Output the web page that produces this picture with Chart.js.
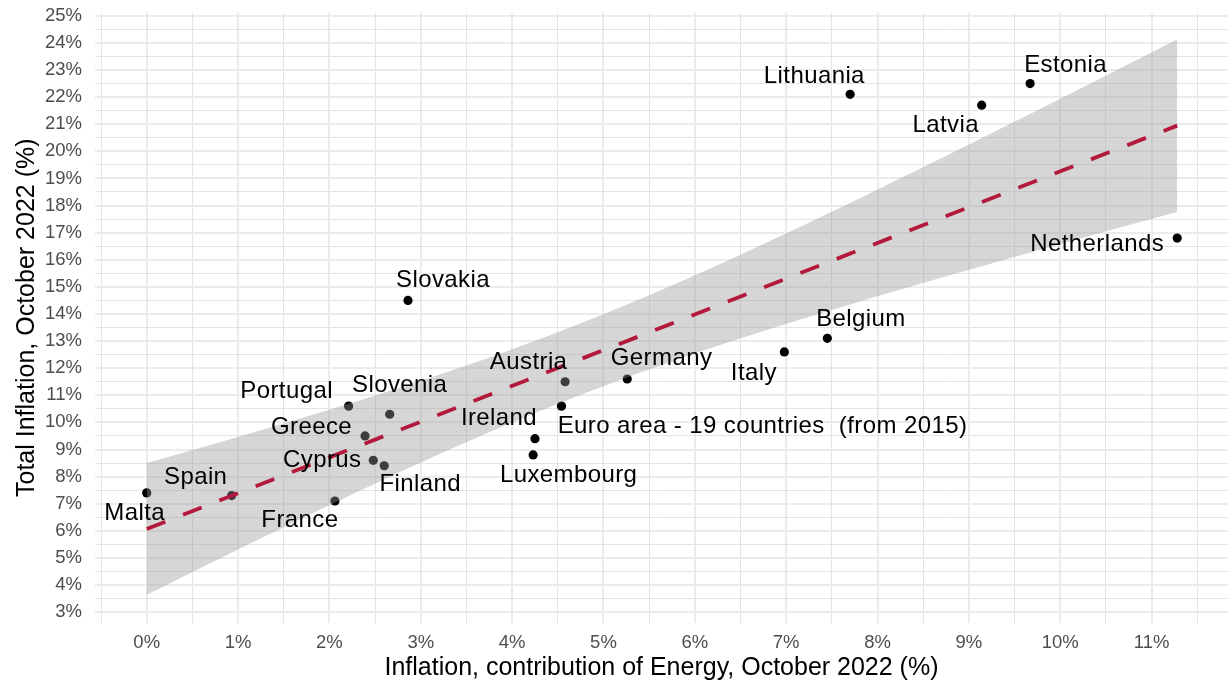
<!DOCTYPE html>
<html>
<head>
<meta charset="utf-8">
<script src="https://cdn.jsdelivr.net/npm/chart.js@4.4.1/dist/chart.umd.min.js"></script>
<style>
  html, body { margin: 0; padding: 0; background: #ffffff; }
  #wrap { width: 1228px; height: 684px; }
</style>
</head>
<body>
<div id="wrap"><canvas id="chart" width="1228" height="684"></canvas></div>
<script>
// Euro area, October 2022: energy's contribution to inflation vs. total HICP inflation (%)
const countries = [
  'Malta', 'Spain', 'France', 'Cyprus', 'Finland', 'Greece', 'Portugal', 'Slovenia',
  'Slovakia', 'Ireland', 'Luxembourg', 'Euro area - 19 countries  (from 2015)', 'Austria',
  'Germany', 'Italy', 'Belgium', 'Lithuania', 'Latvia', 'Estonia', 'Netherlands'
];
const energyContribution = [
  0.00, 0.93, 2.06, 2.48, 2.60, 2.39, 2.21, 2.66,
  2.86, 4.25, 4.23, 4.54, 4.58,
  5.26, 6.98, 7.45, 7.70, 9.14, 9.67, 11.28
];
const totalInflation = [
  7.4, 7.3, 7.1, 8.6, 8.4, 9.5, 10.6, 10.3,
  14.5, 9.4, 8.8, 10.6, 11.5,
  11.6, 12.6, 13.1, 22.1, 21.7, 22.5, 16.8
];

const xTickValues = [0, 1, 2, 3, 4, 5, 6, 7, 8, 9, 10, 11];
const xTickLabels = ['0%', '1%', '2%', '3%', '4%', '5%', '6%', '7%', '8%', '9%', '10%', '11%'];
const yTickValues = [3, 4, 5, 6, 7, 8, 9, 10, 11, 12, 13, 14, 15, 16, 17, 18, 19, 20, 21, 22, 23, 24, 25];
const yTickLabels = ['3%', '4%', '5%', '6%', '7%', '8%', '9%', '10%', '11%', '12%', '13%', '14%',
  '15%', '16%', '17%', '18%', '19%', '20%', '21%', '22%', '23%', '24%', '25%'];

// Label placement: pixel offset of each country label from its point
const labelNudge = [
  [-12, 20], [-36, -18], [-35, 19.5], [-51, 0.5], [36, 19], [-53.5, -9], [-62, -14.3], [10, -28.7],
  [35, -19.7], [-36, -20], [35.5, 20.2], [201, 20], [-36.5, -19],
  [34.3, -21], [-30.5, 21], [33.6, -18.6], [-35.8, -17.6], [-36, 19.7], [35.5, -18.3], [-80, 6.7]
];

// ---- Linear fit with 95% confidence band ----
const n = energyContribution.length;
const meanX = energyContribution.reduce((a, b) => a + b, 0) / n;
const meanY = totalInflation.reduce((a, b) => a + b, 0) / n;
let sxx = 0, sxy = 0;
for (let i = 0; i < n; i++) {
  sxx += (energyContribution[i] - meanX) ** 2;
  sxy += (energyContribution[i] - meanX) * (totalInflation[i] - meanY);
}
const slope = sxy / sxx;
const intercept = meanY - slope * meanX;
let sse = 0;
for (let i = 0; i < n; i++) {
  sse += (totalInflation[i] - (intercept + slope * energyContribution[i])) ** 2;
}
const sigma = Math.sqrt(sse / (n - 2));
const tCrit = 2.100922; // t(0.975, df = 18)
const xMin = Math.min(...energyContribution);
const xMax = Math.max(...energyContribution);
const bandLower = [], bandUpper = [];
const steps = 80;
for (let k = 0; k <= steps; k++) {
  const x = xMin + (xMax - xMin) * k / steps;
  const fit = intercept + slope * x;
  const se = sigma * Math.sqrt(1 / n + (x - meanX) ** 2 / sxx);
  bandLower.push({ x, y: fit - tCrit * se });
  bandUpper.push({ x, y: fit + tCrit * se });
}
const fitLine = [
  { x: xMin, y: intercept + slope * xMin },
  { x: xMax, y: intercept + slope * xMax }
];

const points = energyContribution.map((x, i) => ({ x, y: totalInflation[i] }));

// Grid every 0.5 %, labels on whole percents
const halfSteps = (lo, hi) => { const out = []; for (let v = lo; v <= hi + 1e-9; v += 0.5) out.push(+v.toFixed(1)); return out; };
const xGrid = halfSteps(-0.5, 11.5);
const yGrid = halfSteps(3, 25);

const FONT = "'Liberation Sans', Arial, Helvetica, sans-serif";
const isMajor = v => Math.abs(v - Math.round(v)) < 1e-6;

// Fixed plotting panel inside the 1228 x 684 canvas
const PANEL = { left: 95, top: 12.5, right: 1228, bottom: 623 };

const fixedPanel = {
  id: 'fixedPanel',
  afterLayout(chart) {
    const ca = chart.chartArea;
    Object.assign(ca, PANEL);
    ca.width = PANEL.right - PANEL.left;
    ca.height = PANEL.bottom - PANEL.top;
    const x = chart.scales.x, y = chart.scales.y;
    Object.assign(x, { left: PANEL.left, right: PANEL.right, width: ca.width,
      top: PANEL.bottom, bottom: chart.height, height: chart.height - PANEL.bottom });
    Object.assign(y, { left: 0, right: PANEL.left, width: PANEL.left,
      top: PANEL.top, bottom: PANEL.bottom, height: ca.height });
    x.configure();
    y.configure();
  }
};

const countryLabels = {
  id: 'countryLabels',
  afterDatasetsDraw(chart) {
    const meta = chart.getDatasetMeta(0);
    const ctx = chart.ctx;
    ctx.save();
    ctx.font = `24px ${FONT}`;
    if ('letterSpacing' in ctx) ctx.letterSpacing = '0.4px';
    ctx.fillStyle = '#000000';
    ctx.textAlign = 'center';
    ctx.textBaseline = 'middle';
    meta.data.forEach((pt, i) => {
      ctx.fillText(countries[i], pt.x + labelNudge[i][0], pt.y + labelNudge[i][1]);
    });
    ctx.restore();
  }
};

const noEdgePadding = s => { s.paddingTop = 0; s.paddingBottom = 0; s.paddingLeft = 0; s.paddingRight = 0; };

new Chart(document.getElementById('chart'), {
  type: 'line',
  data: {
    datasets: [
      {
        label: 'Countries',
        data: points,
        showLine: false,
        pointRadius: 4.6,
        pointBackgroundColor: '#000000',
        pointBorderWidth: 0,
        pointHoverRadius: 4.6,
        order: 3
      },
      {
        label: 'CI lower',
        data: bandLower,
        borderWidth: 0,
        pointRadius: 0,
        fill: false,
        order: 2
      },
      {
        label: 'CI upper',
        data: bandUpper,
        borderWidth: 0,
        pointRadius: 0,
        fill: { target: 1 },
        backgroundColor: 'rgba(153,153,153,0.4)',
        order: 2
      },
      {
        label: 'Linear fit',
        data: fitLine,
        borderColor: '#b3193c',
        borderWidth: 3.8,
        borderDash: [20, 19],
        borderCapStyle: 'butt',
        pointRadius: 0,
        fill: false,
        order: 1
      }
    ]
  },
  options: {
    responsive: false,
    animation: false,
    devicePixelRatio: 1,
    events: [],
    layout: { padding: { top: 12.5, right: 0, bottom: 0, left: 0 } },
    plugins: {
      legend: { display: false },
      tooltip: { enabled: false },
      filler: { propagate: false }
    },
    scales: {
      x: {
        type: 'linear',
        min: -0.566,
        max: 11.836,
        afterBuildTicks: s => { s.ticks = xGrid.map(v => ({ value: v })); },
        afterFit: s => { s.height = 61; noEdgePadding(s); },
        border: { display: false },
        grid: {
          drawTicks: false,
          color: c => isMajor(c.tick.value) ? '#ebebeb' : '#e4e4e4',
          lineWidth: c => isMajor(c.tick.value) ? 2 : 1
        },
        ticks: {
          autoSkip: false,
          maxRotation: 0,
          padding: 9,
          color: '#4d4d4d',
          font: { family: FONT, size: 18.5 },
          callback: v => { const i = xTickValues.indexOf(v); return i >= 0 ? xTickLabels[i] : ''; }
        },
        title: {
          display: true,
          text: 'Inflation, contribution of Energy, October 2022 (%)',
          color: '#000000',
          font: { family: FONT, size: 25 },
          padding: { top: 0, bottom: 1 }
        }
      },
      y: {
        type: 'linear',
        min: 2.6,
        max: 25.12,
        afterBuildTicks: s => { s.ticks = yGrid.map(v => ({ value: v })); },
        afterFit: s => { s.width = 95; noEdgePadding(s); },
        border: { display: false },
        grid: {
          drawTicks: false,
          color: c => isMajor(c.tick.value) ? '#ebebeb' : '#e4e4e4',
          lineWidth: c => isMajor(c.tick.value) ? 2 : 1
        },
        ticks: {
          autoSkip: false,
          padding: 13,
          color: '#4d4d4d',
          font: { family: FONT, size: 18.5 },
          callback: v => { const i = yTickValues.indexOf(v); return i >= 0 ? yTickLabels[i] : ''; }
        },
        title: {
          display: true,
          text: 'Total Inflation, October 2022 (%)',
          color: '#000000',
          font: { family: FONT, size: 25 },
          padding: { top: 12, bottom: 0 }
        }
      }
    }
  },
  plugins: [fixedPanel, countryLabels]
});
</script>
</body>
</html>
